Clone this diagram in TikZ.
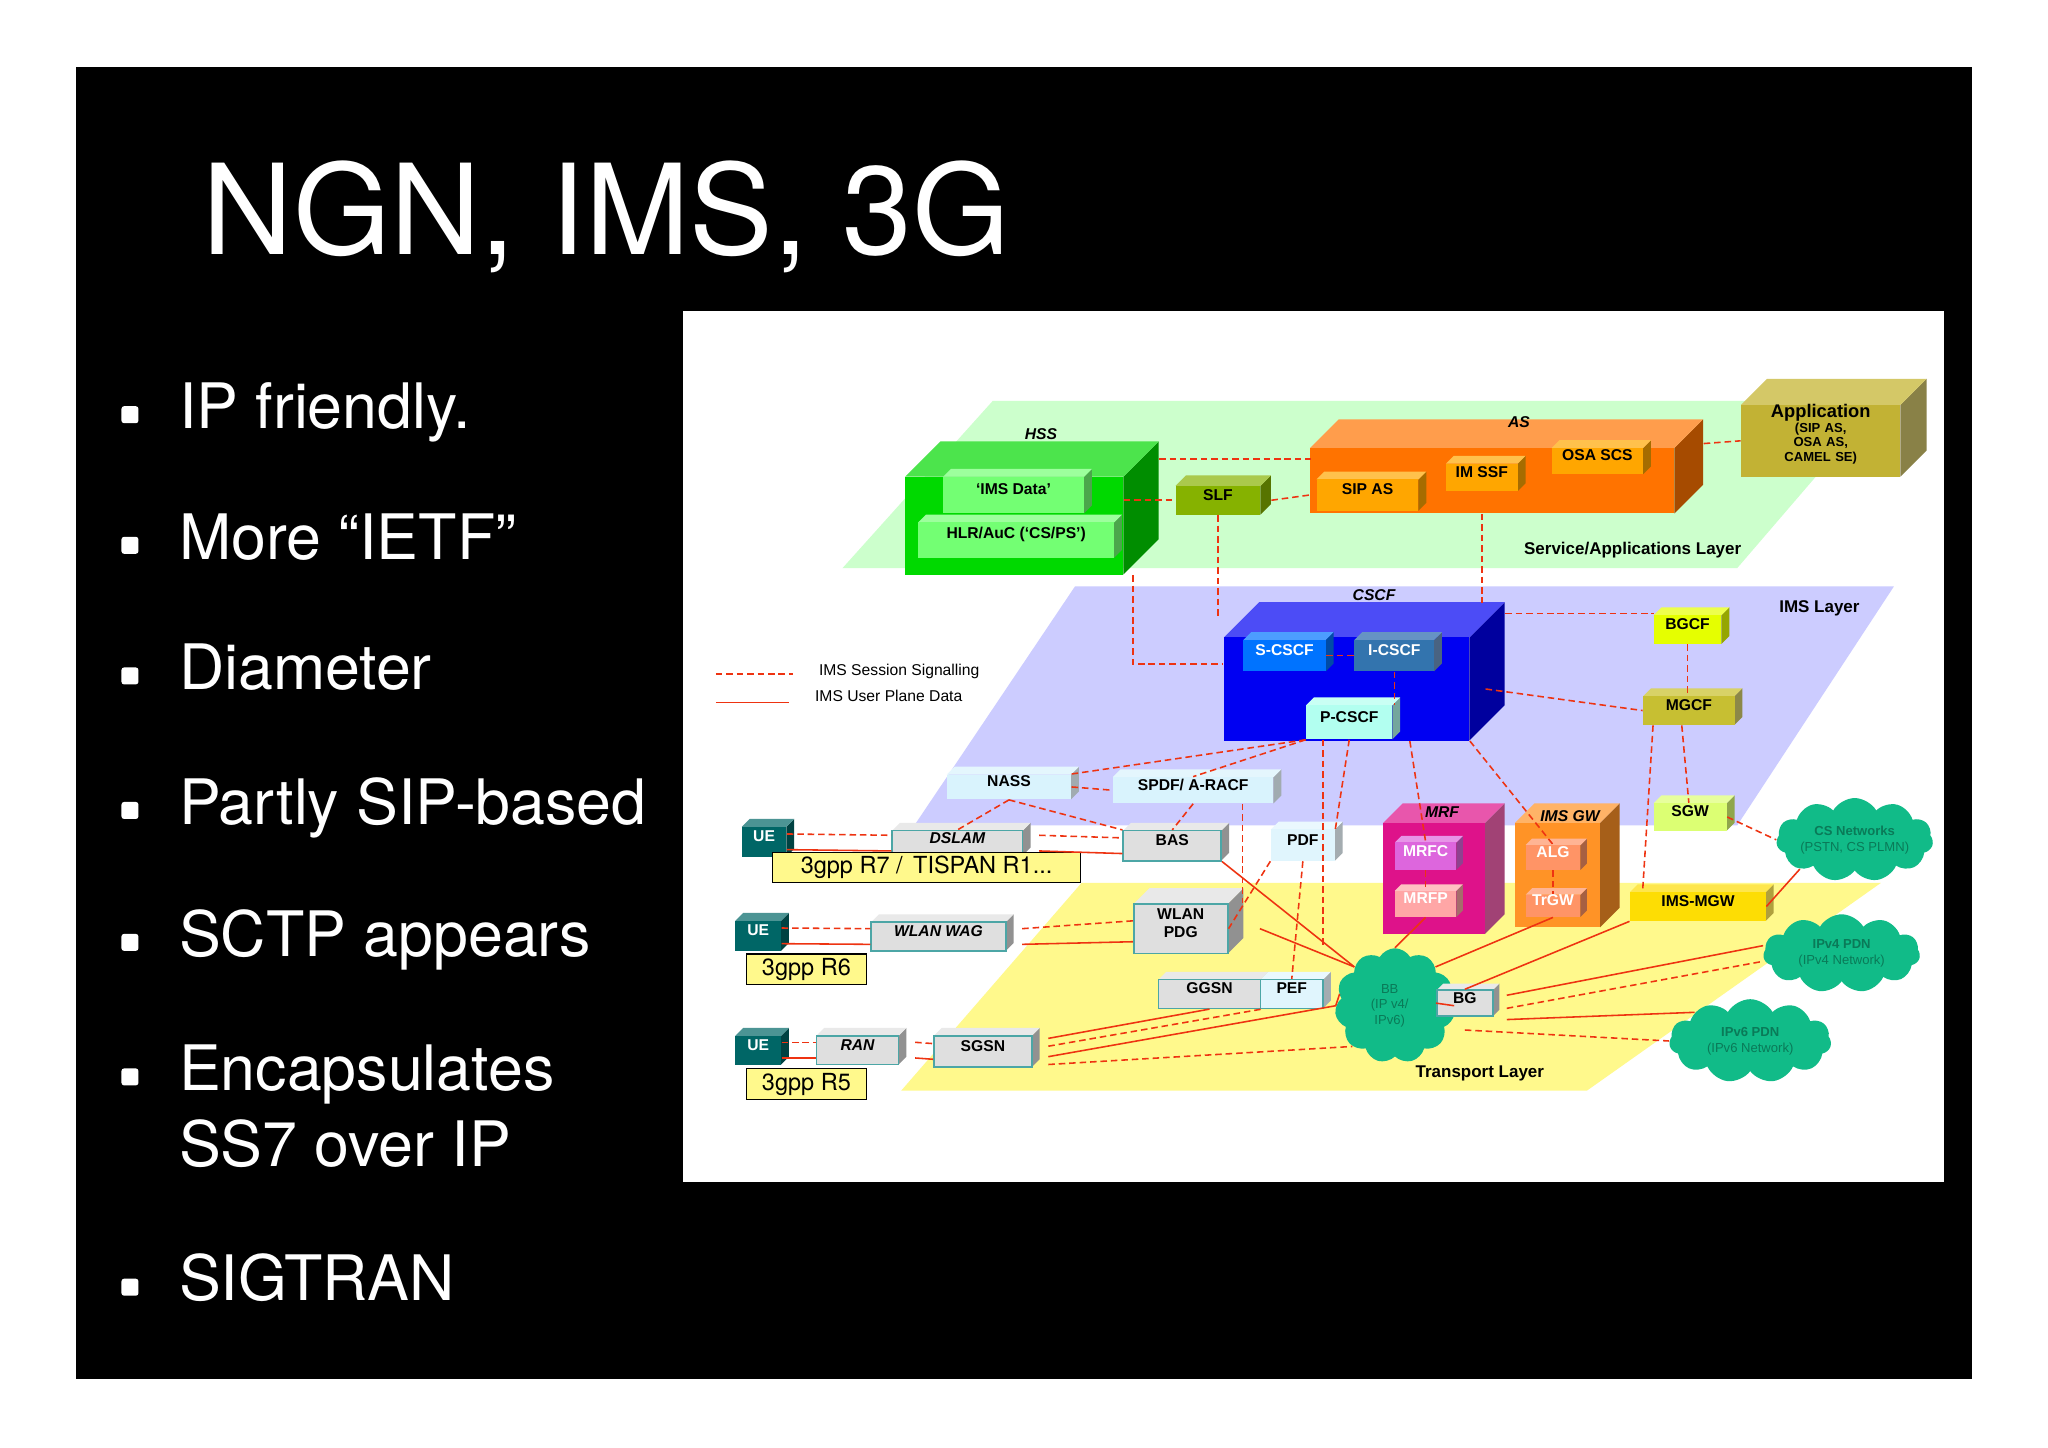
\documentclass[tikz,border=0pt]{standalone}
\usepackage{fontspec}
\setmainfont{TeX Gyre Heros}
\newfontfamily\lab{Liberation Sans}
\usetikzlibrary{fit,shapes.symbols}
\definecolor{sigc}{HTML}{EE3311}
\definecolor{cloudc}{HTML}{11BB88}
\definecolor{cloudt}{HTML}{0A7A58}
\newcommand{\cube}[9][]{%
 \colorlet{cubec}{#8}%
 \fill[cubec!65!black] (#5,#4) -- ++(#7,-#7) -- ++(0,#6-#4) -- (#5,#6) -- cycle;
 \fill[cubec!70!white] (#3,#4) -- ++(#7,-#7) -- ++(#5-#3,0) -- (#5,#4) -- cycle;
 \path (#3,#4) coordinate (#2-a) (#5,#6) coordinate (#2-b);
 \node[fit=(#2-a)(#2-b), inner sep=0, fill=cubec, font=\lab\fontsize{6}{7}\selectfont\bfseries, #1] (#2) {#9};
}
\tikzset{sig/.style={draw=sigc, dash pattern=on 2.5pt off 1.5pt, line width=0.6pt},
 upd/.style={draw=sigc, line width=0.6pt},
 gbox/.style={draw=teal!70, line width=0.6pt},
 relbox/.style={draw=black, fill=yellow!45, font=\fontsize{9}{10}\selectfont, inner sep=1.5pt, anchor=north west, minimum height=11pt},
 cl/.style={cloud, cloud puffs=11, cloud puff arc=120, cloud ignores aspect, fill=cloudc, inner sep=0pt},
 clt/.style={text=cloudt, font=\lab\fontsize{5}{6}\selectfont, align=center},
 bul/.style={anchor=base west, text=white, font=\fontsize{24}{30}\selectfont},
 lay/.style={font=\lab\fontsize{6.5}{7}\selectfont\bfseries},
 ttl/.style={font=\lab\fontsize{6}{7}\selectfont\bfseries\itshape}}
\begin{document}
\begin{tikzpicture}[x=0.5pt,y=-0.5pt]
\useasboundingbox (0,0) rectangle (1568,1108);
\fill[white] (0,0) rectangle (1568,1108);
\fill[black] (58,51) rectangle (1510,1056);
\node[anchor=base west, text=white, font=\fontsize{48}{56}\selectfont] (title) at (148,195) {NGN, IMS, 3G};
\foreach \y/\t [count=\i] in {328/IP friendly., 428/More “IETF”, 528/Diameter, 631/Partly SIP-based, 732/SCTP appears, 835/Encapsulates, 996/SIGTRAN}{
 \fill[white,rounded corners=1pt] (93,\y-17) rectangle (106,\y-4);
 \node[bul] (b\i) at (130,\y) {\t};}
\node[bul] (b8) at (130,893) {SS7 over IP};
% diagram panel
\fill[white] (523,238) rectangle (1488,905);
\fill[green!20] (645,435) -- (760,307) -- (1440,307) -- (1330,435) -- cycle;
\fill[blue!20] (700,632) -- (823,449) -- (1450,449) -- (1330,632) -- cycle;
\fill[yellow!45] (690,835) -- (828,676) -- (1440,676) -- (1215,835) -- cycle;
\node[lay] (sal) at (1250,421) {Service/Applications Layer};
\node[lay] (iml) at (1393,466) {IMS Layer};
\node[lay] (trl) at (1133,822) {Transport Layer};
% legend
\coordinate (l1a) at (548,516); \coordinate (l1b) at (607,516);
\coordinate (l2a) at (548,538); \coordinate (l2b) at (604,538);
\draw[sig] (l1a) -- (l1b); \draw[upd] (l2a) -- (l2b);
\node[anchor=west, font=\lab\fontsize{6}{7}\selectfont] (lg1) at (620,514) {IMS Session Signalling};
\node[anchor=west, font=\lab\fontsize{6}{7}\selectfont] (lg2) at (617,533) {IMS User Plane Data};
% service layer
\cube{hss}{693}{365}{860}{440}{27}{green!85!black}{}
\node[ttl] (hsst) at (797,332) {HSS};
\cube{imsd}{722}{365}{830}{393}{6}{green!55}{‘IMS Data’}
\cube{hlr}{703}{400}{853}{427}{6}{green!55}{HLR/AuC (‘CS/PS’)}
\cube{slf}{900}{372}{965}{394}{8}{lime!70!black}{SLF}
\cube{as}{1003}{343}{1282}{393}{22}{orange!90!red}{}
\node[ttl] (ast) at (1163,323) {AS};
\cube{sipas}{1008}{367}{1086}{391}{6}{orange!70!yellow}{SIP AS}
\cube{imssf}{1107}{355}{1162}{376}{6}{orange!70!yellow}{IM SSF}
\cube{osa}{1188}{343}{1258}{363}{6}{orange!70!yellow}{OSA SCS}
\cube[align=center,font=\lab\fontsize{5}{5.5}\selectfont\bfseries]{app}{1333}{310}{1455}{365}{20}{yellow!70!black!90!orange}{{\fontsize{7}{7}\selectfont Application}\\(SIP AS,\\OSA AS,\\CAMEL SE)}
% IMS layer
\cube{cscf}{937}{488}{1125}{567}{27}{blue!95!black}{}
\node[ttl] (cscft) at (1052,456) {CSCF};
\cube[text=white]{scscf}{952}{490}{1015}{514}{6}{blue!55!cyan}{S-CSCF}
\cube[text=white]{icscf}{1037}{490}{1098}{514}{6}{cyan!60!blue!80!black}{I-CSCF}
\cube{pcscf}{1000}{540}{1066}{566}{6}{green!20!cyan!30}{P-CSCF}
\cube{bgcf}{1266}{471}{1318}{493}{6}{lime!40!yellow}{BGCF}
\cube{mgcf}{1258}{533}{1328}{555}{6}{yellow!75!black}{MGCF}
\cube{nass}{725}{593}{820}{612}{6}{cyan!15}{NASS}
\cube{spdf}{852}{595}{975}{615}{6}{cyan!15}{SPDF/ A-RACF}
\cube{sgw}{1266}{615}{1322}{636}{6}{lime!55}{SGW}
% access
\cube[gbox,font=\lab\fontsize{6}{7}\selectfont\bfseries\itshape]{dslam}{683}{636}{783}{655}{6}{gray!25}{DSLAM}
\cube[gbox]{bas}{860}{636}{935}{659}{6}{gray!25}{BAS}
\cube{pdf}{973}{635}{1022}{659}{6}{cyan!12}{PDF}
\cube[text=white]{ue1}{568}{633}{602}{656}{6}{teal!80!black}{UE}
\cube[text=white]{ue2}{563}{705}{598}{728}{6}{teal!80!black}{UE}
\cube[text=white]{ue3}{563}{793}{598}{815}{6}{teal!80!black}{UE}
\cube[gbox,font=\lab\fontsize{6}{7}\selectfont\bfseries\itshape]{wag}{667}{706}{770}{728}{6}{gray!25}{WLAN WAG}
\cube[gbox,align=center]{pdg}{868}{692}{940}{730}{12}{gray!25}{WLAN\\PDG}
\cube[gbox]{ggsn}{887}{750}{965}{772}{6}{gray!25}{GGSN}
\cube[gbox]{pef}{965}{750}{1013}{772}{6}{cyan!12}{PEF}
\cube[gbox,font=\lab\fontsize{6}{7}\selectfont\bfseries\itshape]{ran}{625}{793}{688}{815}{6}{gray!25}{RAN}
\cube[gbox]{sgsn}{715}{793}{790}{817}{6}{gray!25}{SGSN}
\node[relbox, minimum width=118pt] (r7) at (591,652) {3gpp R7 / \,TISPAN R1...};
\node[relbox, minimum width=46pt] (r6) at (571,730) {3gpp R6};
\node[relbox, minimum width=46pt] (r5) at (571,818) {3gpp R5};
% MRF, IMS GW
\cube{mrf}{1059}{630}{1137}{715}{15}{magenta!85!violet}{}
\node[ttl] (mrft) at (1104,622) {MRF};
\cube[text=white]{mrfc}{1068}{645}{1115}{666}{5}{violet!45!magenta!60}{MRFC}
\cube[text=white]{mrfp}{1068}{682}{1115}{702}{5}{red!35}{MRFP}
\cube{imsgw}{1160}{630}{1225}{710}{15}{orange!85}{}
\node[ttl] (gwt) at (1202,625) {IMS GW};
\cube[text=white]{alg}{1168}{647}{1210}{666}{5}{orange!60!red!60}{ALG}
\cube[text=white]{trgw}{1168}{685}{1210}{702}{5}{orange!60!red!60}{TrGW}
\cube{mgw}{1248}{683}{1352}{705}{6}{yellow!80!orange}{IMS-MGW}
% clouds
\node[cl, minimum width=60pt, minimum height=32pt] (csn) at (1420,643) {};
\node[clt] (csnt) at (csn) {\textbf{CS Networks}\\(PSTN, CS PLMN)};
\node[cl, minimum width=60pt, minimum height=30pt] (v4) at (1410,730) {};
\node[clt] (v4t) at (v4) {\textbf{IPv4 PDN}\\(IPv4 Network)};
\node[cl, minimum width=62pt, minimum height=32pt] (v6) at (1340,797) {};
\node[clt] (v6t) at (v6) {\textbf{IPv6 PDN}\\(IPv6 Network)};
\node[cl, minimum width=46pt, minimum height=44pt] (bb) at (1068,770) {};
\node[clt] (bbt) at ([xshift=-2pt]bb) {BB\\(IP v4/\\IPv6)};
\cube[gbox]{bg}{1100}{758}{1143}{778}{5}{gray!25}{BG}
% signalling
\draw[sig] ([xshift=13.5pt,yshift=6.5pt]hss.north east) -- ++(116,0);
\draw[sig] (hss.east|-slf.west) -- (slf.west);
\draw[sig] ([xshift=4pt]slf.east) -- (sipas.west-|as.west);
\draw[sig] ([xshift=11pt,yshift=1.5pt]as.north east) -- (app.west);
\draw[sig] (slf.south) -- ++(0,79);
\draw[sig] (imssf.south|-as.south) -- ++(0,68);
\draw[sig] ([xshift=3.5pt]hss.south east) |- ([yshift=9.5pt]cscf.west);
\draw[sig] ([xshift=13.5pt,yshift=9pt]cscf.north east) -- ++(114,0);
\draw[sig] ([xshift=6pt]cscf.east) -- (mgcf.west);
\draw[sig] (bgcf.south) -- (mgcf.north-|bgcf.south);
\draw[sig] (scscf.east) -- (icscf.west);
\draw[sig] (icscf.south) -- (icscf.south|-pcscf.north);
\draw[sig] ([xshift=4pt]mgcf.south west) -- (mgw.north-|mgcf.south west);
\draw[sig] ([xshift=15pt]mgcf.south west) -- (sgw.north-|mgcf.south);
\draw[sig] (sgw.east) -- (csn.west);
\draw[sig] (pcscf.south west) -- (nass.north east);
\draw[sig] (pcscf.south west) -- (spdf.north);
\draw[sig] (pcscf.south) -- (pdf.north east);
\draw[sig] ([xshift=-10pt]pcscf.south) -- ([xshift=-10pt]pcscf.south|-bb.north);
\draw[sig] ([xshift=-23pt]cscf.south east) -- (mrfc.north);
\draw[sig] (cscf.south east) -- (alg.north);
\draw[sig] (nass.east) -- (spdf.west);
\draw[sig] (nass.south) -- (dslam.north);
\draw[sig] (nass.south) -- (bas.north west);
\draw[sig] (spdf.south) -- (bas.north);
\draw[sig] ([xshift=-12pt]spdf.south east) -- ([xshift=-12pt]spdf.south east|-pdg.north);
\draw[sig] (pdf.south) -- (pef.north);
\draw[sig] (pdf.south west) -- (pdg.east);
\draw[sig] (mrfc.south) -- (mrfp.north);
\draw[sig] (alg.south) -- (trgw.north);
% user plane
\draw[upd] ([yshift=-3pt]ue1.east) -- ([yshift=-3pt]dslam.west);
\draw[sig] ([yshift=3pt]ue1.east) -- ([yshift=3pt]dslam.west);
\draw[upd] ([xshift=6pt,yshift=-3pt]dslam.east) -- ([yshift=-3pt]bas.west);
\draw[sig] ([xshift=6pt,yshift=3pt]dslam.east) -- ([yshift=3pt]bas.west);
\draw[upd] (bas.south east) -- (bb.north west);
\draw[upd] ([yshift=-3pt]ue2.east) -- ([yshift=-3pt]wag.west);
\draw[sig] ([yshift=3pt]ue2.east) -- ([yshift=3pt]wag.west);
\draw[upd] ([xshift=6pt,yshift=-3pt]wag.east) -- ([yshift=-5pt]pdg.west);
\draw[sig] ([xshift=6pt,yshift=3pt]wag.east) -- ([yshift=3pt]pdg.west);
\draw[upd] ([xshift=12pt]pdg.east) -- (bb.north west);
\draw[upd] ([yshift=-3pt]ue3.east) -- ([yshift=-3pt]ran.west);
\draw[sig] ([yshift=3pt]ue3.east) -- ([yshift=3pt]ran.west);
\draw[upd] ([xshift=6pt,yshift=-3pt]ran.east) -- ([yshift=-3pt]sgsn.west);
\draw[sig] ([xshift=6pt,yshift=3pt]ran.east) -- ([yshift=3pt]sgsn.west);
\draw[upd] ([xshift=6pt,yshift=5pt]sgsn.east) -- (ggsn.south);
\draw[sig] ([xshift=6pt,yshift=2pt]sgsn.east) -- ([xshift=20pt]ggsn.south);
\draw[upd] ([xshift=6pt,yshift=-2pt]sgsn.east) -- (bb.west);
\draw[sig] ([xshift=6pt,yshift=-5pt]sgsn.east) -- (bb.south west);
\draw[upd] ([xshift=6pt]pef.east) -- (bb.west);
\draw[upd] (mrfp.south) -- (bb.north);
\draw[upd] (trgw.south) -- (bb.north east);
\draw[upd] (mgw.south west) -- (bg.north);
\draw[upd] (mgw.east) -- (csn.south west);
\draw[upd] (bb.east) -- (bg.west);
\draw[upd] ([xshift=5pt,yshift=3pt]bg.east) -- ([yshift=3pt]v4.west);
\draw[sig] ([xshift=5pt,yshift=-2pt]bg.east) -- ([yshift=-3pt]v4.west);
\draw[upd] ([xshift=5pt,yshift=-1pt]bg.south east) -- (v6.north west);
\draw[sig] ([yshift=-5pt]bg.south) -- (v6.west);
\end{tikzpicture}
\end{document}
